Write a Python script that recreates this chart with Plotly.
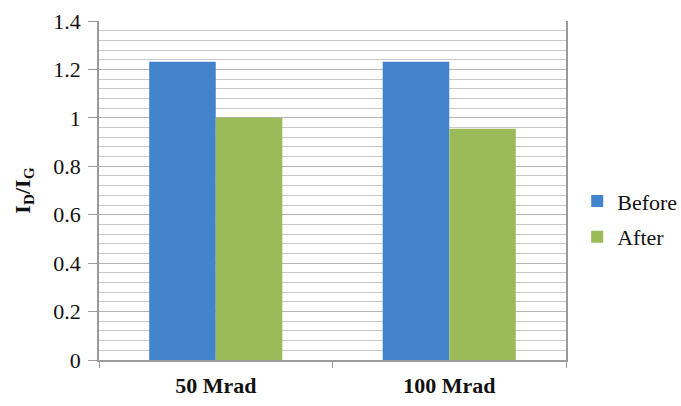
import plotly.graph_objects as go

categories = ["50 Mrad", "100 Mrad"]
before = [1.232, 1.232]
after = [1.0, 0.955]

serif = "Liberation Serif"

fig = go.Figure()
fig.add_trace(go.Bar(name="Before", x=categories, y=before, legendgroup="b",
                     marker=dict(color="#4383cb", line=dict(width=0))))
fig.add_trace(go.Bar(name="After", x=categories, y=after, legendgroup="a",
                     marker=dict(color="#9bbb59", line=dict(width=0))))

fig.update_layout(
    width=681, height=406,
    margin=dict(l=99, r=115, t=21, b=46, autoexpand=False),
    paper_bgcolor="white", plot_bgcolor="white",
    barmode="group", bargap=0.43, bargroupgap=0,
    font=dict(family=serif, size=22, color="#111111"),
    showlegend=True,
    legend=dict(x=1.024, y=0.415, xanchor="left", yanchor="middle",
                font=dict(family=serif, size=22), itemwidth=30,
                tracegroupgap=4, bgcolor="rgba(0,0,0,0)"),
    xaxis=dict(
        showline=True, linecolor="#9a9a9a", linewidth=1.5, mirror=False,
        ticks="outside", tickson="boundaries", ticklen=6, tickcolor="#9a9a9a",
        tickfont=dict(family=serif, size=22, color="#111111"),
        ticklabelstandoff=5, automargin=False,
        tickvals=categories,
        ticktext=["<b>%s</b>" % c for c in categories],
        showgrid=False,
    ),
    yaxis=dict(
        range=[0, 1.4], dtick=0.2, tick0=0, tickformat="~g",
        showline=True, linecolor="#9a9a9a", linewidth=1.5, mirror=True,
        ticks="outside", ticklen=9, tickcolor="#9a9a9a",
        tickfont=dict(family=serif, size=22, color="#111111"),
        ticklabelstandoff=3, automargin=False,
        showgrid=True, gridcolor="#b4b4b4", gridwidth=1,
        minor=dict(dtick=0.04, tick0=0, showgrid=True,
                   gridcolor="#c8c8c8", gridwidth=1, ticks=""),
        zeroline=False,
        title=dict(text="<b>I<sub>D</sub>/I<sub>G</sub></b>",
                   font=dict(family=serif, size=22), standoff=17),
    ),
)

fig.write_html("out.html")
